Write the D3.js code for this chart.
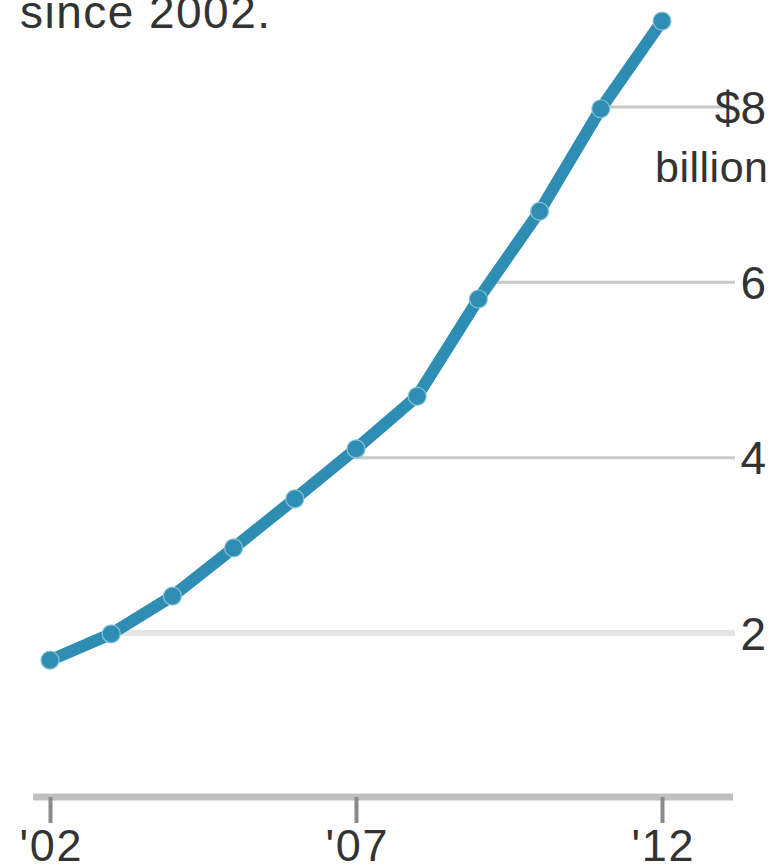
<!DOCTYPE html>
<html>
<head>
<meta charset="utf-8">
<script src="https://cdn.jsdelivr.net/npm/d3@7"></script>
<style>
  body { margin: 0; background: #fff; }
  svg text { font-family: "Liberation Sans", Arial, sans-serif; fill: #333; }
</style>
</head>
<body>
<div id="chart"></div>
<script>
// Data (billions of dollars)
const years = [2002, 2003, 2004, 2005, 2006, 2007, 2008, 2009, 2010, 2011, 2012];
const values = [1.69, 1.99, 2.42, 2.97, 3.53, 4.1, 4.7, 5.81, 6.81, 7.98, 8.98];
const yTicks = [2, 4, 6, 8];
const xTicks = [2002, 2007, 2012];
const xTickLabels = ["'02", "'07", "'12"];

const width = 780, height = 868;
const data = years.map((yr, i) => ({ year: yr, value: values[i] }));

const svg = d3.select('#chart').append('svg')
  .attr('width', width)
  .attr('height', height);

// Scales
const x = d3.scaleLinear().domain([2002, 2012]).range([50, 662]);
const y = d3.scaleLinear().domain([2, 8]).range([633, 107]);

// Gridlines
const gridRight = 735;
svg.append('g')
  .selectAll('line')
  .data(yTicks)
  .join('line')
    .attr('x1', x(2002))
    .attr('x2', gridRight)
    .attr('y1', d => y(d))
    .attr('y2', d => y(d))
    .attr('stroke', d => d === 2 ? '#e4e4e4' : '#c8c8c8')
    .attr('stroke-width', d => d === 2 ? 6 : 3);

// White area above the line hides gridlines on that side
const cover = d3.area()
  .x(d => x(d.year))
  .y0(0)
  .y1(d => y(d.value));

svg.append('path')
  .datum(data)
  .attr('fill', '#fff')
  .attr('d', cover);

// Headline fragment (cut off at the top)
svg.append('text')
  .attr('x', 20)
  .attr('y', 28)
  .attr('font-size', 46)
  .attr('textLength', 250)
  .text('since 2002.');

// Y labels
svg.append('g')
  .selectAll('text')
  .data(yTicks)
  .join('text')
    .attr('x', 766)
    .attr('y', d => y(d))
    .attr('dy', '0.36em')
    .attr('text-anchor', 'end')
    .attr('font-size', 46)
    .text(d => d === 8 ? '$8' : d);

svg.append('text')
  .attr('x', 768)
  .attr('y', y(8) + 75)
  .attr('text-anchor', 'end')
  .attr('font-size', 43)
  .attr('textLength', 113)
  .text('billion');

// X axis
const xAxis = d3.axisBottom(x)
  .tickValues(xTicks)
  .tickFormat((d, i) => xTickLabels[i])
  .tickSize(26)
  .tickPadding(6);

const gx = svg.append('g')
  .attr('transform', 'translate(0,797)')
  .call(xAxis);

gx.select('.domain').remove();
gx.insert('line', ':first-child')
  .attr('x1', 33)
  .attr('x2', 733)
  .attr('stroke', '#c0c0c0')
  .attr('stroke-width', 7);
gx.selectAll('.tick line')
  .attr('stroke', '#8a8a8a')
  .attr('stroke-width', 4);
gx.selectAll('.tick text')
  .attr('font-size', 45)
  .attr('font-family', '"Liberation Sans", Arial, sans-serif')
  .attr('fill', '#333')
  .attr('textLength', 62);

// Line
const line = d3.line()
  .x(d => x(d.year))
  .y(d => y(d.value));

const blue = '#2e8db3';

svg.append('path')
  .datum(data)
  .attr('fill', 'none')
  .attr('stroke', blue)
  .attr('stroke-width', 12)
  .attr('stroke-linejoin', 'round')
  .attr('d', line);

svg.append('g')
  .selectAll('circle')
  .data(data)
  .join('circle')
    .attr('cx', d => x(d.year))
    .attr('cy', d => y(d.value))
    .attr('r', 9)
    .attr('fill', blue)
    .attr('stroke', '#8cc2d8')
    .attr('stroke-width', 1.2);
</script>
</body>
</html>
